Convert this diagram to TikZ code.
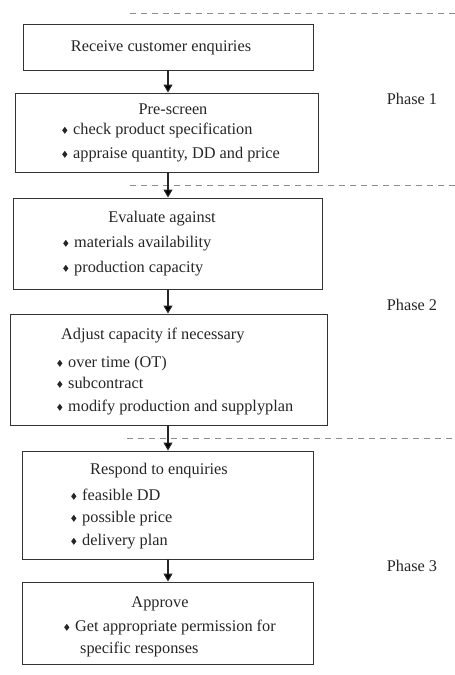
\documentclass[tikz,border=0pt]{standalone}
\usepackage{fontspec}
\setmainfont{Liberation Serif}
\usetikzlibrary{arrows.meta}

% small filled diamond used as list bullet, followed by its gap
\newcommand\dmd{\tikz[baseline=-7.2pt]\fill[black!85] (0,0) -- (2.6pt,-3.5pt) -- (0,-7pt) -- (-2.6pt,-3.5pt) -- cycle;\hspace{5.8pt}}

\tikzset{
  stepbox/.style={draw=black!80, line width=0.9pt, minimum width=#1, inner sep=0pt},
  txt/.style={anchor=base west, inner sep=0pt, font=\fontsize{16.3}{19}\selectfont, text=black!85},
  ctxt/.style={anchor=base, inner sep=0pt, font=\fontsize{16.3}{19}\selectfont, text=black!85},
  flow/.style={draw=black!85, line width=1.1pt, -{Triangle[width=9pt,length=8pt]}},
  phaseline/.style={draw=black!45, line width=1pt, dash pattern=on 6pt off 5pt},
}

\begin{document}
\begin{tikzpicture}[x=1pt, y=-1pt]
\useasboundingbox (0,0) rectangle (455,675);

% phase separators
\coordinate (d1a) at (130,13);  \coordinate (d1b) at (455,13);
\coordinate (d2a) at (130,185); \coordinate (d2b) at (455,185);
\coordinate (d3a) at (127,438); \coordinate (d3b) at (455,438);
\draw[phaseline] (d1a) -- (d1b);
\draw[phaseline] (d2a) -- (d2b);
\draw[phaseline] (d3a) -- (d3b);

% process boxes
\node[stepbox=290pt, minimum height=46pt]  (b1) at (168,47)    {};
\node[stepbox=303pt, minimum height=79pt]  (b2) at (166.5,132.5) {};
\node[stepbox=309pt, minimum height=91pt]  (b3) at (167.5,243.5) {};
\node[stepbox=317pt, minimum height=111pt] (b4) at (168.5,369.5) {};
\node[stepbox=291pt, minimum height=108pt] (b5) at (167.5,505)   {};
\node[stepbox=291pt, minimum height=82pt]  (b6) at (167.5,623)   {};

% box texts
\node[ctxt] (t1) at (161,51) {Receive customer enquiries};

\node[ctxt] (t2) at (173,114) {Pre-screen};
\node[txt]  (t2a) at (62,134) {\dmd check product specification};
\node[txt]  (t2b) at (62,158) {\dmd appraise quantity, DD and price};

\node[ctxt] (t3) at (162,222) {Evaluate against};
\node[txt]  (t3a) at (63,247) {\dmd materials availability};
\node[txt]  (t3b) at (63,272) {\dmd production capacity};

\node[txt]  (t4) at (61,339) {Adjust capacity if necessary};
\node[txt]  (t4a) at (57,367) {\dmd over time (OT)};
\node[txt]  (t4b) at (57,388) {\dmd subcontract};
\node[txt]  (t4c) at (57,411) {\dmd modify production and supplyplan};

\node[ctxt] (t5) at (159,474) {Respond to enquiries};
\node[txt]  (t5a) at (71,500) {\dmd feasible DD};
\node[txt]  (t5b) at (71,522) {\dmd possible price};
\node[txt]  (t5c) at (71,545) {\dmd delivery plan};

\node[ctxt] (t6) at (160,607) {Approve};
\node[txt]  (t6a) at (64,631) {\dmd Get appropriate permission for};
\node[txt]  (t6b) at (80,653) {specific responses};

% phase labels
\node[ctxt] (p1) at (412,104) {Phase 1};
\node[ctxt] (p2) at (412,310) {Phase 2};
\node[ctxt] (p3) at (412,571) {Phase 3};

% flow arrows
\draw[flow] (b1.south) -- (b1.south |- b2.north);
\draw[flow] (b1.south |- b2.south) -- (b1.south |- b3.north);
\draw[flow] (b1.south |- b3.south) -- (b1.south |- b4.north);
\draw[flow] (b1.south |- b4.south) -- (b1.south |- b5.north);
\draw[flow] (b1.south |- b5.south) -- (b1.south |- b6.north);
\end{tikzpicture}
\end{document}
